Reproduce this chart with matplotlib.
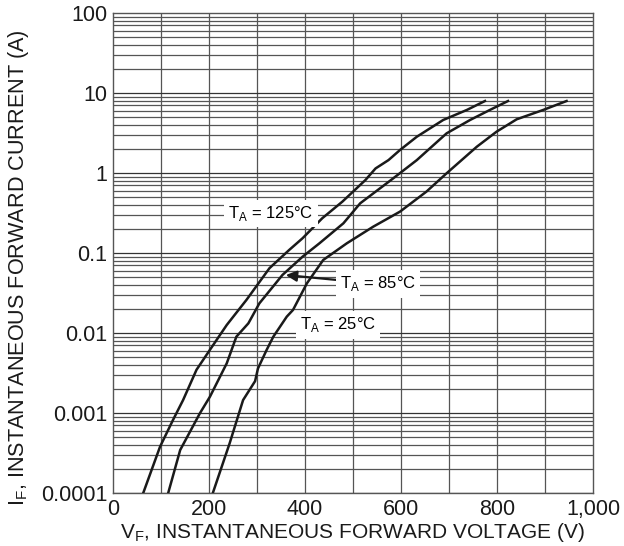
import matplotlib.pyplot as plt
import numpy as np

plt.rcParams['font.family'] = ['Liberation Sans', 'DejaVu Sans']
plt.rcParams['mathtext.fontset'] = 'custom'
plt.rcParams['mathtext.rm'] = 'Liberation Sans'

# Forward voltage (V) vs forward current (A)
v_125 = [63, 98, 125, 146, 174, 202, 237, 278, 298, 326, 367, 395, 436, 478, 526, 547, 574, 598,
         633, 688, 737, 775]
i_125 = [1e-4, 3.79e-4, 8.18e-4, 1.45e-3, 3.47e-3, 6.17e-3, 0.0126, 0.0259, 0.0379, 0.0646, 0.109,
         0.153, 0.272, 0.439, 0.818, 1.14, 1.45, 1.94, 2.84, 4.60, 6.13, 7.94]

v_85 = [115, 140, 181, 202, 237, 257, 282, 305, 353, 395, 430, 480, 515, 584, 633, 695, 744, 785, 823]
i_85 = [1e-4, 3.45e-4, 9.91e-4, 1.60e-3, 4.18e-3, 8.99e-3, 0.0132, 0.0235, 0.0531, 0.0899, 0.132,
        0.235, 0.418, 0.859, 1.45, 3.13, 4.60, 6.13, 7.94]

v_25 = [208, 243, 271, 296, 302, 320, 334, 362, 375, 404, 438, 487, 542, 598, 653, 695, 758, 799,
        841, 896, 945]
i_25 = [1e-4, 4.18e-4, 1.45e-3, 2.5e-3, 3.6e-3, 6.13e-3, 8.99e-3, 0.016, 0.0194, 0.0418, 0.0818,
        0.132, 0.213, 0.329, 0.585, 0.991, 2.13, 3.28, 4.69, 6.13, 7.94]

x_ticks = [0, 200, 400, 600, 800, 1000]
x_labels = ['0', '200', '400', '600', '800', '1,000']
y_ticks = [1e-4, 1e-3, 1e-2, 1e-1, 1, 10, 100]
y_labels = ['0.0001', '0.001', '0.01', '0.1', '1', '10', '100']

fig = plt.figure(figsize=(6.24, 5.46), dpi=100)
ax = fig.add_axes([0.1811, 0.0971, 0.7692, 0.8791])

ax.set_yscale('log')
ax.set_xlim(0, 1000)
ax.set_ylim(1e-4, 100)

# grid: every 100 V, and 1..9 per decade
for xv in np.arange(100, 1000, 100):
    ax.axvline(xv, color='#555555', lw=0.9, zorder=1)
for dec in range(-4, 2):
    for m in range(1, 10):
        yv = m * 10.0 ** dec
        ax.axhline(yv, color='#333333' if m == 1 else '#555555', lw=0.9, zorder=1)

for v, i in [(v_125, i_125), (v_85, i_85), (v_25, i_25)]:
    ax.plot(v, i, color='#1a1a1a', lw=1.8, zorder=3)

box = dict(facecolor='white', edgecolor='none', pad=3)
ax.text(240, 0.31, r'T$_\mathregular{A}$ = 125°C', fontsize=12, ha='left', va='center',
        bbox=box, zorder=4)
ax.text(390, 0.0126, r'T$_\mathregular{A}$ = 25°C', fontsize=12, ha='left', va='center',
        bbox=box, zorder=4)
ax.annotate(r'T$_\mathregular{A}$ = 85°C', xy=(360, 0.053), xytext=(473, 0.041),
            fontsize=12, ha='left', va='center', bbox=box, zorder=4,
            arrowprops=dict(arrowstyle='-|>', color='#1a1a1a', lw=1.6,
                            mutation_scale=16, shrinkA=0, shrinkB=0))

ax.set_xticks(x_ticks)
ax.set_xticklabels(x_labels)
ax.set_yticks(y_ticks)
ax.set_yticklabels(y_labels)
ax.minorticks_off()
ax.tick_params(length=0, labelsize=15.5, colors='#1a1a1a', pad=4)
for s in ax.spines.values():
    s.set_color('#555555')
    s.set_linewidth(1.0)

ax.set_xlabel(r'V$_\mathregular{F}$, INSTANTANEOUS FORWARD VOLTAGE (V)', fontsize=15,
              color='#1a1a1a', labelpad=1)
ax.set_ylabel(r'I$_\mathregular{F}$, INSTANTANEOUS FORWARD CURRENT (A)', fontsize=15.6,
              color='#1a1a1a')
ax.yaxis.set_label_coords(-0.17, 0.47)

fig.savefig('out.png', dpi=100)
